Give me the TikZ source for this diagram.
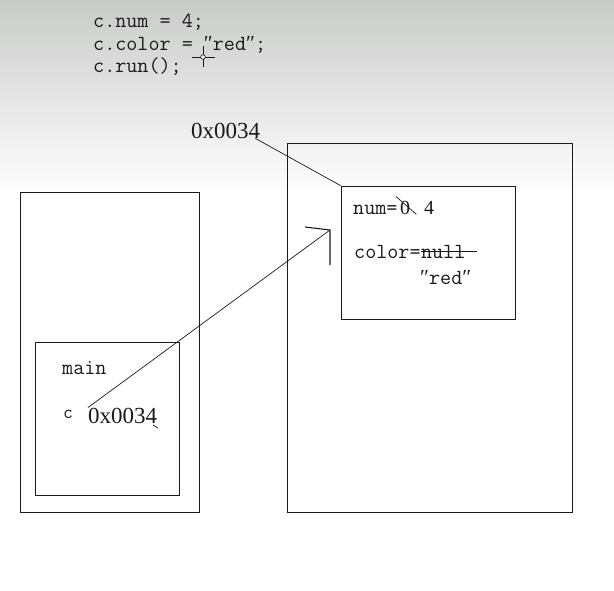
\documentclass[tikz,border=0pt]{standalone}
\usepackage{fontspec}
\setmainfont{Liberation Serif}
\usepackage{tikz}
\usetikzlibrary{positioning}
\definecolor{bgtop}{HTML}{C9CBC9}
\definecolor{ink}{HTML}{1A1A1A}
\newcommand{\dq}{{\rmfamily ″}}

\begin{document}
\begin{tikzpicture}[x=1pt,y=-1pt,
  box/.style={draw=ink,line width=0.8pt,inner sep=0pt},
  code/.style={font=\fontsize{21.5}{24}\ttfamily,anchor=base west,inner sep=0pt,text=ink},
  addr/.style={font=\fontsize{23}{26}\rmfamily,anchor=base west,inner sep=0pt,text=ink},
  digit/.style={font=\fontsize{20}{24}\rmfamily,anchor=base west,inner sep=0pt,text=ink},
  pen/.style={draw=ink,line width=0.7pt},
  headpen/.style={draw=ink,line width=1.1pt}
]
\useasboundingbox (0,0) rectangle (614,590);
\fill[white] (0,0) rectangle (614,590);
\shade[top color=bgtop,bottom color=white] (0,0) rectangle (614,195);
% code on top
\node[code] (line1) at (93,27) {c.num = 4;};
\node[code] (line2) at (93,50) {c.color = \dq red\dq;};
\node[code] (line3) at (93,72) {c.run();};
% mouse cursor
\draw[pen] (203,46) -- (203,67) (192,57) -- (215,57);
\draw[pen,fill=white] (203,57) circle (2.3);
% stack
\node[box,minimum width=179,minimum height=320] (stack) at (109.5,352) {};
\node[box,minimum width=144,minimum height=153] (frame) at (107,418.5) {};
\node[code] (mainlbl) at (62,374) {main};
\node[code,font=\fontsize{19}{22}\ttfamily] (varc) at (63,418) {c};
\node[addr] (ptr) at (88,423) {0x0034};
\draw[pen] (153,425) -- (158,428);
% heap
\node[box,minimum width=285,minimum height=369] (heap) at (429.5,327.5) {};
\node[box,minimum width=174,minimum height=133] (obj) at (428,252.5) {};
\node[addr] (objaddr) at (191,138) {0x0034};
\draw[pen] ([xshift=-5pt]objaddr.south east) -- (obj.north west);
\node[code] (numlbl) at (353,214) {num=};
\node[digit] (oldnum) at (400,214) {0};
\node[digit] (newnum) at (424,214) {4};
\draw[pen] ([shift={(-4,-4)}]oldnum.north west) -- ([shift={(6,0)}]oldnum.south east);
\node[code] (colorlbl) at (354,258) {color=};
\node[code] (oldcolor) at (colorlbl.base east) {null};
\draw[pen] ([yshift=7pt]oldcolor.base west) -- ++(56,0);
\node[code] (newcolor) at (420,284) {\dq red\dq};
% reference arrow
\coordinate (tip) at (330,230);
\draw[pen] (ptr.north west) -- (tip);
\draw[headpen] ([shift={(-25,-3)}]tip) -- (tip) -- ([shift={(0,35)}]tip);
\end{tikzpicture}
\end{document}
